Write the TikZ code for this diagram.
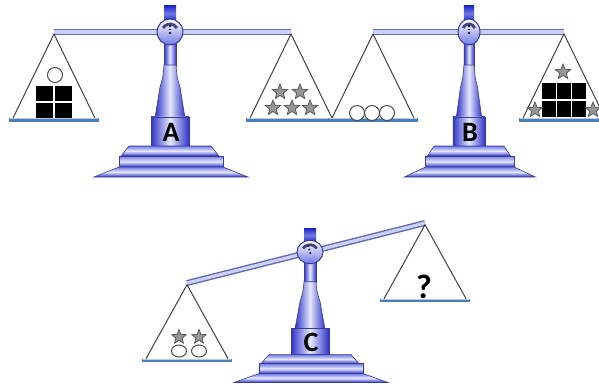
\documentclass[tikz,border=0pt]{standalone}
\usepackage{fontspec}
\newfontfamily\scalefont{Carlito}
\usetikzlibrary{shapes.geometric}

\definecolor{standdark}{RGB}{45,50,200}
\definecolor{standmid}{RGB}{115,122,228}
\definecolor{standlight}{RGB}{230,233,252}
\definecolor{standedge}{RGB}{55,60,150}
\definecolor{knobblue}{RGB}{30,40,200}
\definecolor{beamedge}{RGB}{95,105,185}
\definecolor{beamlight}{RGB}{205,210,242}
\definecolor{platecol}{RGB}{75,125,185}
\definecolor{stargray}{RGB}{150,150,150}

\tikzset{
  dial tilt/.store in=\dialtilt, dial tilt=0,
  beam/.style={draw=beamedge, line width=0.7pt, double=beamlight, double distance=1.6pt},
  cord/.style={draw=black!75, line width=0.5pt},
  block/.style={fill=black},
  ball/.style={draw=black!70, fill=white, line width=0.5pt},
  gstar/.style={star, star points=5, star point ratio=2.3, minimum size=8pt,
    inner sep=0pt, fill=stargray, draw=black!65, line width=0.4pt},
  upright/.style={left color=standdark, right color=standdark, middle color=standlight,
    draw=standedge, line width=0.3pt},
  footstep/.style={top color=standmid, bottom color=standdark, middle color=standlight,
    draw=standedge, line width=0.3pt},
  dialface/.style={top color=white, bottom color=standmid, draw=standedge, line width=0.5pt},
  gauge/.style={draw=black!45!standmid, line width=1.4pt},
  needle/.style={draw=black!85, densely dotted, line width=0.8pt},
  standlabel/.style={font=\scalefont\bfseries\fontsize{14}{14}\selectfont, inner sep=0pt},
  qmark/.style={font=\scalefont\bfseries\fontsize{17}{17}\selectfont, inner sep=0pt},
  % pivot, column and foot of one balance
  stand/.pic={
    \shade[top color=knobblue, bottom color=knobblue, middle color=standmid] (-6,-26) rectangle (6,-11);
    \shade[upright] (-6,8) rectangle (6,34);
    \shade[upright] (-6,33) -- (6,33) .. controls (7,45) .. (10,55) -- (15,86)
      -- (-15,86) -- (-10,55) .. controls (-7,45) .. (-6,33) -- cycle;
    \shade[upright] (-19,85) rectangle (19,114);
    \shade[footstep] (-41,114) -- (41,114) -- (49,124) -- (-49,124) -- cycle;
    \shade[footstep] (-51,124) rectangle (53,135);
    \shade[footstep] (-51,135) -- (53,135) -- (78,145) -- (-76,145) -- cycle;
    \shade[dialface] (0,0) circle (13);
    \draw[gauge] (-150:8) arc[start angle=-150, end angle=-30, radius=8];
    \draw[needle, rotate=\dialtilt] (0,2) -- (0,-8);
    \node[standlabel] (-label) at (1,100) {#1};
  },
  % hanging pan
  pan/.pic={
    \fill[platecol] (-45,86) rectangle (45,90);
    \draw[white!60!platecol, line width=0.4pt] (-44,86.6) -- (44,86.6);
    \draw[cord] (-41,86) -- (0,2) -- (41,86);
  }
}

\begin{document}
\begin{tikzpicture}[x=0.5pt, y=-0.5pt]
\useasboundingbox (0,0) rectangle (599,385);

% balance A
\coordinate (aP) at (170,32);
\coordinate (aL) at (54,32);
\coordinate (aR) at (291,32);
\draw[beam] (aL) -- (aR);
\pic (sa) at (aP) {stand=A};
\pic at (aL) {pan};
\pic at (aR) {pan};
\draw[ball] (55,75) circle (7.5);
\foreach \i in {0,1}
  \foreach \j in {0,1}
    \fill[block] (36+19*\i,86+17*\j) rectangle ++(17,15);
\foreach \p [count=\k] in {(280,92),(300,92),(273,108),(292,108),(310,108)}
  \node[gstar] (astar\k) at \p {};

% balance B
\coordinate (bP) at (469,32);
\coordinate (bL) at (373,32);
\coordinate (bR) at (564,32);
\draw[beam] (bL) -- (bR);
\pic[xscale=0.85] (sb) at (bP) {stand=B};
\pic at (bL) {pan};
\pic at (bR) {pan};
\foreach \x in {357,372,387}
  \draw[ball] (\x,113) circle (7.5);
\foreach \i in {0,1,2}
  \foreach \j in {0,1}
    \fill[block] (542+15*\i,83+18*\j) rectangle ++(13.5,16);
\foreach \p [count=\k] in {(563,72),(535,110),(593,110)}
  \node[gstar] (bstar\k) at \p {};

% balance C, tipped
\coordinate (cP) at (310,252);
\coordinate (cL) at (187,283);
\coordinate (cR) at (425,223);
\draw[beam] (cL) -- (cR);
\pic[yscale=0.9, dial tilt=14] (sc) at (cP) {stand=C};
\pic[yscale=0.88] at (cL) {pan};
\pic[yscale=0.88] at (cR) {pan};
\foreach \x [count=\k] in {179,199}{
  \draw[ball] (\x,351) ellipse [x radius=7.5, y radius=6];
  \node[gstar, minimum size=7.5pt] (cstar\k) at (\x,337) {};
}
\node[qmark] (cq) at (424,287) {?};
\end{tikzpicture}
\end{document}
